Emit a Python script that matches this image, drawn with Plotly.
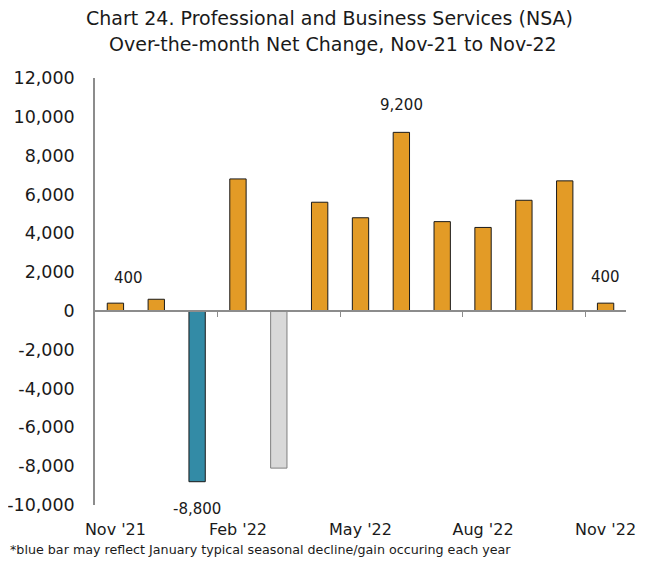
import plotly.graph_objects as go

months = ["Nov '21", "Dec '21", "Jan '22", "Feb '22", "Mar '22", "Apr '22", "May '22",
          "Jun '22", "Jul '22", "Aug '22", "Sep '22", "Oct '22", "Nov '22"]
change = [400, 600, -8800, 6800, -8100, 5600, 4800, 9200, 4600, 4300, 5700, 6700, 400]
bar_colors = ["#E39B26", "#E39B26", "#338BA6", "#E39B26", "#D9D9D9", "#E39B26", "#E39B26",
              "#E39B26", "#E39B26", "#E39B26", "#E39B26", "#E39B26", "#E39B26"]
edge_colors = ["#1a1a1a"] * 4 + ["#7f7f7f"] + ["#1a1a1a"] * 8
labelled = [0, 2, 7, 12]

y_ticks = list(range(-10000, 12001, 2000))
y_ticktext = [f"{v:,}" for v in y_ticks]
x_tickvals = [0, 3, 6, 9, 12]
x_boundaries = [2.5, 5.5, 8.5, 11.5]

FONT = "DejaVu Sans"
INK = "#1a1a1a"
AXIS = "#8c8c8c"

# label offsets in pixels (the source chart had hand-placed labels)
label_shift = {0: (13, 25), 2: (0, -27), 7: (0, 27), 12: (0, 26)}

# page body adds 8px margin, so the figure is 8px smaller than the window
W, H = 640, 553
L, R, T, B = 87, 22, 70, 56
pw, ph = W - L - R, H - T - B

xs = list(range(len(months)))

fig = go.Figure()
fig.add_trace(go.Bar(
    x=xs, y=change, width=0.4,
    marker=dict(color=bar_colors, line=dict(color=edge_colors, width=1)),
    hovertext=months,
))
# invisible trace to activate the zero-line axis
fig.add_trace(go.Scatter(x=[0], y=[0], xaxis="x2", mode="markers",
                         marker=dict(opacity=0), hoverinfo="skip"))

for i in labelled:
    v = change[i]
    dx, dy = label_shift[i]
    fig.add_annotation(x=i, y=v, text=f"{v:,}", showarrow=False,
                       xshift=dx, yshift=dy, yanchor="middle",
                       font=dict(family=FONT, size=15, color=INK))

fig.add_annotation(text="Chart 24. Professional and Business Services (NSA)",
                   xref="paper", yref="paper", x=(321 - L) / pw, y=1 + 60 / ph,
                   xanchor="center", yanchor="middle", showarrow=False,
                   font=dict(family=FONT, size=19, color=INK))
fig.add_annotation(text="Over-the-month Net Change, Nov-21 to Nov-22",
                   xref="paper", yref="paper", x=(325 - L) / pw, y=1 + 34 / ph,
                   xanchor="center", yanchor="middle", showarrow=False,
                   font=dict(family=FONT, size=19, color=INK))
fig.add_annotation(text="*blue bar may reflect January typical seasonal decline/gain occuring each year",
                   xref="paper", yref="paper", x=0, xshift=-L, y=-44 / ph,
                   xanchor="left", yanchor="middle", showarrow=False,
                   font=dict(family=FONT, size=12.7, color=INK))

ymin, ymax = -10000, 12000
fig.update_layout(
    width=W, height=H,
    margin=dict(l=L, r=R, t=T, b=B),
    paper_bgcolor="white", plot_bgcolor="white",
    showlegend=False,
    xaxis=dict(range=[-0.5, 12.5], tickvals=x_tickvals,
               ticktext=[months[i] for i in x_tickvals],
               ticks="", showgrid=False, zeroline=False, showline=False,
               ticklabelstandoff=13, automargin=False,
               tickfont=dict(family=FONT, size=16, color=INK)),
    xaxis2=dict(range=[-0.5, 12.5], overlaying="x", anchor="free",
                position=(0 - ymin) / (ymax - ymin),
                tickvals=x_boundaries, ticks="outside", ticklen=5, tickcolor=AXIS,
                showticklabels=False, showgrid=False, zeroline=False,
                showline=True, linecolor=AXIS, linewidth=1.5, automargin=False),
    yaxis=dict(range=[ymin, ymax], tickvals=y_ticks, ticktext=y_ticktext,
               showgrid=False, zeroline=False, showline=True,
               linecolor=AXIS, linewidth=1.5, ticks="",
               ticklabelstandoff=15, automargin=False,
               tickfont=dict(family=FONT, size=17.5, color=INK)),
)

fig.write_html("out.html")
